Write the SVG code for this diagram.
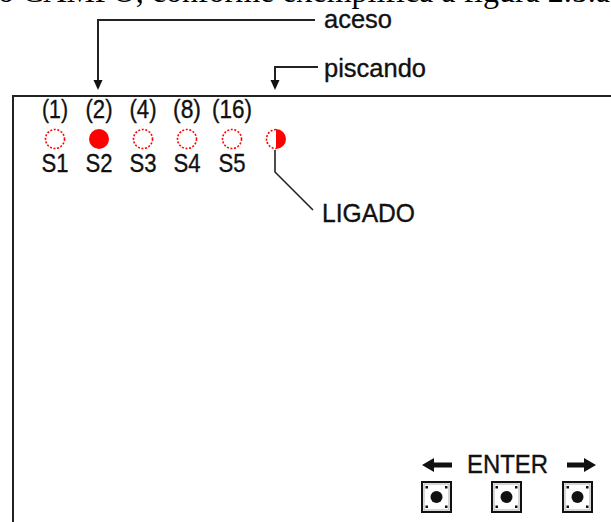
<svg xmlns="http://www.w3.org/2000/svg" width="611" height="522" viewBox="0 0 611 522">
<style>
.t{font-family:"Liberation Sans",Arial,sans-serif;font-size:25px;fill:#111;stroke:#111;stroke-width:0.35}
.c{text-anchor:middle}
.ln{fill:none;stroke:#222;stroke-width:2}
.led{fill:#fff;stroke:#f00;stroke-width:1.6;stroke-dasharray:2 1.6}
.btn{fill:#fff;stroke:#111;stroke-width:2}
</style>
<defs>
<g id="button">
<rect class="btn" x="1" y="1" width="29" height="30"/>
<rect x="3" y="3" width="25" height="26" fill="none" stroke="#999" stroke-width="0.8"/>
<circle cx="15.5" cy="16" r="6" fill="#111"/>
<rect x="4.5" y="5" width="2.5" height="2.5" fill="#111"/>
<rect x="24" y="5" width="2.5" height="2.5" fill="#111"/>
<rect x="4.5" y="24.5" width="2.5" height="2.5" fill="#111"/>
<rect x="24" y="24.5" width="2.5" height="2.5" fill="#111"/>
</g>
</defs>
<rect width="611" height="522" fill="#fff"/>
<text x="-2" y="2" font-family="'Liberation Serif','Times New Roman',serif" font-size="31" fill="#000" textLength="612" lengthAdjust="spacingAndGlyphs">o CAMPO, conforme exemplifica a figura 2.5.a</text>

<g id="panel">
<path class="ln" d="M13,530 V96 H620"/>
</g>

<g id="connectors">
<polyline class="ln" points="315,20 98,20 98,82"/>
<polygon points="93.5,80 102.5,80 98,90" fill="#111"/>
<polyline class="ln" points="318,67 275,67 275,82"/>
<polygon points="270.5,80 279.5,80 275,90" fill="#111"/>
<polyline fill="none" stroke="#222" stroke-width="1.6" points="275,150 275,172 313,210"/>
</g>

<g id="label-aceso"><text class="t" x="324" y="28" textLength="68" lengthAdjust="spacingAndGlyphs">aceso</text></g>
<g id="label-piscando"><text class="t" x="324" y="77" textLength="102" lengthAdjust="spacingAndGlyphs">piscando</text></g>
<g id="label-ligado"><text class="t" x="322" y="222" textLength="93" lengthAdjust="spacingAndGlyphs">LIGADO</text></g>

<g id="led-s1">
<text class="t c" x="55" y="118" textLength="26" lengthAdjust="spacingAndGlyphs">(1)</text>
<circle class="led" cx="55" cy="139" r="9.5"/>
<text class="t c" x="55" y="172" textLength="27" lengthAdjust="spacingAndGlyphs">S1</text>
</g>
<g id="led-s2">
<text class="t c" x="99" y="118" textLength="27" lengthAdjust="spacingAndGlyphs">(2)</text>
<circle cx="99" cy="139" r="10" fill="#f00"/>
<text class="t c" x="99" y="172" textLength="27" lengthAdjust="spacingAndGlyphs">S2</text>
</g>
<g id="led-s3">
<text class="t c" x="143" y="118" textLength="27" lengthAdjust="spacingAndGlyphs">(4)</text>
<circle class="led" cx="143" cy="139" r="9.5"/>
<text class="t c" x="143" y="172" textLength="27" lengthAdjust="spacingAndGlyphs">S3</text>
</g>
<g id="led-s4">
<text class="t c" x="187" y="118" textLength="28" lengthAdjust="spacingAndGlyphs">(8)</text>
<circle class="led" cx="187" cy="139" r="9.5"/>
<text class="t c" x="187" y="172" textLength="27" lengthAdjust="spacingAndGlyphs">S4</text>
</g>
<g id="led-s5">
<text class="t c" x="232" y="118" textLength="40" lengthAdjust="spacingAndGlyphs">(16)</text>
<circle class="led" cx="232" cy="139" r="9.5"/>
<text class="t c" x="232" y="172" textLength="27" lengthAdjust="spacingAndGlyphs">S5</text>
</g>
<g id="led-ligado">
<path class="led" d="M276,129.5 A9.5,9.5 0 0 0 276,148.5"/>
<path d="M276,129 A10,10 0 0 1 276,149 Z" fill="#f00"/>
</g>

<g id="controls">
<polygon points="422,465 434,458 434,462.5 452,462.5 452,467.5 434,467.5 434,472" fill="#111"/>
<text class="t" x="467" y="473" textLength="81" lengthAdjust="spacingAndGlyphs">ENTER</text>
<polygon points="596,465 584,458 584,462.5 567,462.5 567,467.5 584,467.5 584,472" fill="#111"/>
</g>
<g id="btn-left"><use href="#button" x="421" y="481"/></g>
<g id="btn-enter"><use href="#button" x="491" y="481"/></g>
<g id="btn-right"><use href="#button" x="562" y="481"/></g>
</svg>
